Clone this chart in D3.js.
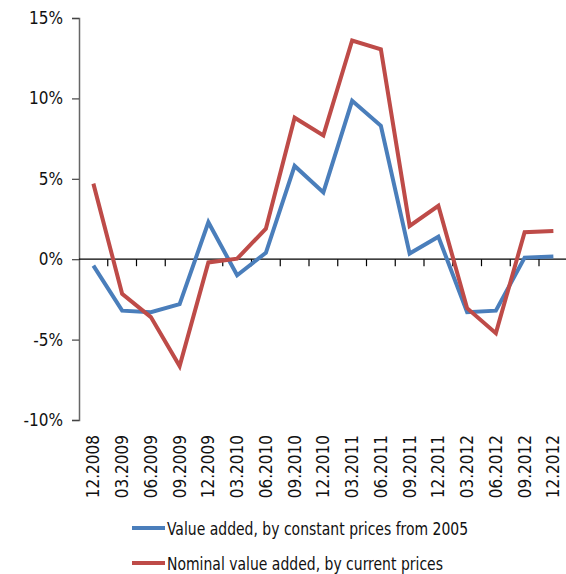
<!DOCTYPE html>
<html>
<head>
<meta charset="utf-8">
<script src="https://cdn.jsdelivr.net/npm/d3@7"></script>
<style>
  body { margin: 0; background: #fff; }
  text { font-family: "DejaVu Sans Condensed", "DejaVu Sans", sans-serif; fill: #111; }
</style>
</head>
<body>
<svg id="chart" width="566" height="574"></svg>
<script>
// quarters
const quarters = ["12.2008", "03.2009", "06.2009", "09.2009", "12.2009", "03.2010", "06.2010", "09.2010",
  "12.2010", "03.2011", "06.2011", "09.2011", "12.2011", "03.2012", "06.2012", "09.2012", "12.2012"];

// growth, %
const realValues = [-0.4, -3.2, -3.3, -2.8, 2.3, -1.0, 0.4, 5.8, 4.15, 9.85, 8.3, 0.35, 1.4, -3.3, -3.2, 0.1, 0.17];
const nominalValues = [4.7, -2.15, -3.6, -6.65, -0.2, 0.03, 1.9, 8.8, 7.7, 13.6, 13.05, 2.07, 3.32, -3.05, -4.6, 1.68, 1.76];

const yTicks = [-10, -5, 0, 5, 10, 15];
const seriesNames = ["Value added, by constant prices from 2005", "Nominal value added, by current prices"];
const colors = ["#4a7ebb", "#be4b48"];

const svg = d3.select("#chart");
const margin = { left: 79, top: 18, right: 0, bottom: 154 };
const width = 566, height = 574;

const x = d3.scaleBand()
  .domain(quarters)
  .range([margin.left, margin.left + 28.75 * quarters.length]);

const y = d3.scaleLinear()
  .domain([-10, 15])
  .range([height - margin.bottom, margin.top]);

// y axis
const yAxis = svg.append("g")
  .attr("transform", `translate(${margin.left},0)`)
  .call(d3.axisLeft(y).tickValues(yTicks).tickFormat(d => d + "%").tickSize(7).tickPadding(9));
yAxis.select(".domain").attr("stroke", "#666").attr("stroke-width", 1.5);
yAxis.selectAll(".tick line").attr("stroke", "#444").attr("stroke-width", 1.2);
yAxis.selectAll("text").attr("font-size", 17).attr("fill", "#111");

// zero line with ticks between categories
svg.append("line")
  .attr("x1", margin.left).attr("x2", width)
  .attr("y1", y(0)).attr("y2", y(0))
  .attr("stroke", "#000").attr("stroke-width", 1.2);

svg.append("g").selectAll("line")
  .data(quarters.slice(1))
  .join("line")
  .attr("x1", d => x(d)).attr("x2", d => x(d))
  .attr("y1", y(0)).attr("y2", y(0) + 7)
  .attr("stroke", "#000").attr("stroke-width", 1.2);

// rotated category labels at the bottom
svg.append("g").selectAll("text")
  .data(quarters)
  .join("text")
  .attr("transform", d => `translate(${x(d) + x.bandwidth() / 2 + 6},${y(-10) + 15}) rotate(-90)`)
  .attr("text-anchor", "end")
  .attr("font-size", 17)
  .text(d => d);

// lines
const line = d3.line()
  .x((d, i) => x(quarters[i]) + x.bandwidth() / 2)
  .y(d => y(d));

[realValues, nominalValues].forEach((vals, k) => {
  svg.append("path")
    .datum(vals)
    .attr("fill", "none")
    .attr("stroke", colors[k])
    .attr("stroke-width", 4)
    .attr("stroke-linejoin", "miter")
    .attr("d", line);
});

// legend (text squeezed horizontally like the original)
const legend = svg.append("g").selectAll("g")
  .data(seriesNames)
  .join("g")
  .attr("transform", (d, i) => `translate(132,${528 + i * 35})`);

legend.append("line")
  .attr("x1", 0).attr("x2", 33)
  .attr("stroke", (d, i) => colors[i])
  .attr("stroke-width", 4);

legend.append("text")
  .attr("transform", "translate(35,6.5) scale(0.84,1)")
  .attr("font-size", 18.5)
  .text(d => d);
</script>
</body>
</html>
